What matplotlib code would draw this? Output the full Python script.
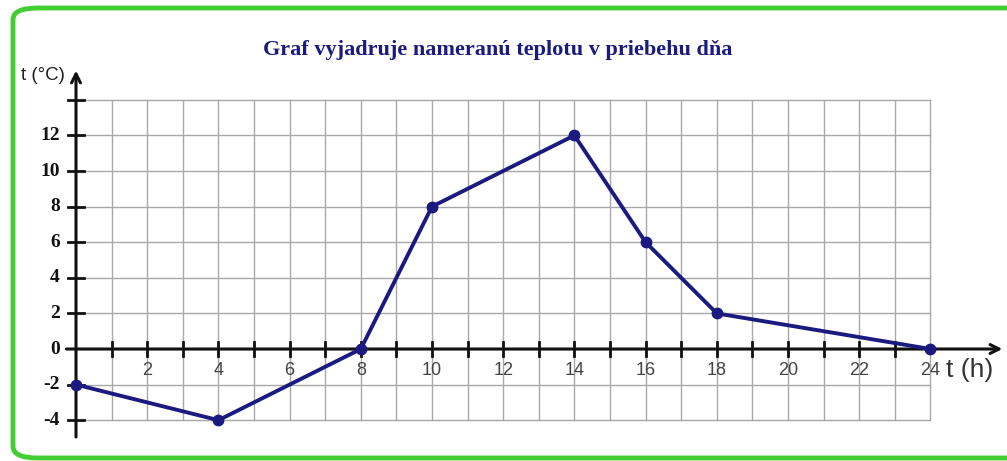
import matplotlib
matplotlib.use("Agg")
import matplotlib.pyplot as plt
from matplotlib.patches import FancyBboxPatch

# data
hours = [0, 4, 8, 10, 14, 16, 18, 24]
temps = [-2, -4, 0, 8, 12, 6, 2, 0]
x_labels = [2, 4, 6, 8, 10, 12, 14, 16, 18, 20, 22, 24]
y_labels = [-4, -2, 0, 2, 4, 6, 8, 10, 12]
title = "Graf vyjadruje nameranú teplotu v priebehu dňa"

W, H = 1007, 461
fig = plt.figure(figsize=(W / 100, H / 100), dpi=100)
ax = fig.add_axes([0, 0, 1, 1])

# pixel mapping: x=0 at px 76, 35.6 px per hour; y=0 at px 349, 17.8 px per degree
sx, sy = 35.6, 17.8
x0, y0 = 76, 349
ax.set_xlim(-x0 / sx, (W - x0) / sx)
ax.set_ylim(-(H - y0) / sy, y0 / sy)
ax.axis("off")

navy = "#1a1a80"
grid_c = "#a8a8a8"

# grid
for h in range(1, 25):
    ax.plot([h, h], [-4, 14], color=grid_c, lw=1, zorder=1)
for t in range(-4, 16, 2):
    ax.plot([0, 24], [t, t], color=grid_c, lw=1, zorder=1)

# axes with arrows
ax.annotate("", xy=(26.1, 0), xytext=(-0.35, 0),
            arrowprops=dict(arrowstyle="->", color="#111111", lw=2.2, mutation_scale=16), zorder=3)
ax.annotate("", xy=(0, 15.8), xytext=(0, -5.1),
            arrowprops=dict(arrowstyle="->", color="#111111", lw=2.2, mutation_scale=16), zorder=3)

# ticks
for h in range(1, 24):
    ax.plot([h, h], [-0.4, 0.4], color="#111111", lw=2, zorder=3)
for t in range(-4, 16, 2):
    if t != 0:
        ax.plot([-0.22, 0.22], [t, t], color="#111111", lw=2, zorder=3)

# tick labels
for h in x_labels:
    ax.text(h, -1.2, str(h), ha="center", va="center", fontsize=13,
            color="#444444", family="Liberation Sans")
for t in y_labels:
    ax.text(-0.45, t, str(t), ha="right", va="center", fontsize=14,
            fontweight="bold", color="#111111", family="Liberation Serif")

ax.text(-1.55, 15.35, "t (°C)", ha="left", va="center", fontsize=13.5,
        color="#222222", family="Liberation Sans")
ax.text(24.45, -1.2, "t (h)", ha="left", va="center", fontsize=19,
        color="#333333", family="Liberation Sans")

# data line
ax.plot(hours, temps, color=navy, lw=2.8, marker="o", markersize=7.5,
        markerfacecolor=navy, markeredgecolor=navy, zorder=4, clip_on=False)

# title
fig.text(498 / W, 1 - 50 / H, title, ha="center", va="center", fontsize=16,
         fontweight="bold", color=navy, family="Liberation Serif")

# green rounded frame
frame = FancyBboxPatch((13 / W, 3 / H), 1.05, 1 - 8 / H - 3 / H,
                       boxstyle="round,pad=0,rounding_size=0.025",
                       transform=fig.transFigure, fill=False,
                       edgecolor="#44cc33", lw=3.5, zorder=10)
fig.patches.append(frame)

fig.savefig("out.png", dpi=100)
